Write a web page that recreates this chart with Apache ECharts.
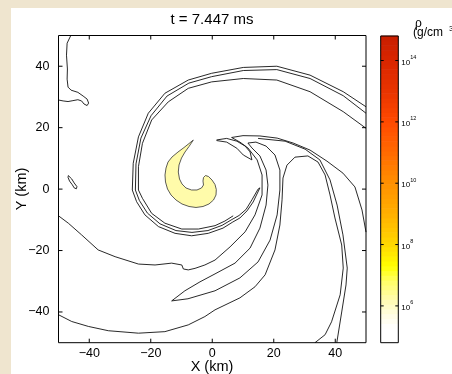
<!DOCTYPE html>
<html>
<head>
<meta charset="utf-8">
<script src="https://cdn.jsdelivr.net/npm/echarts@6/dist/echarts.min.js"></script>
<style>
html,body{margin:0;padding:0;width:452px;height:374px;overflow:hidden;background:#efe5cf;}
#panel{position:absolute;left:11px;top:8px;right:0;bottom:0;background:#ffffff;}
#chart{position:absolute;left:0;top:0;width:452px;height:374px;}
</style>
</head>
<body>
<div id="panel"></div>
<div id="chart"></div>
<script>
// ---------- data (km) ----------
const titleText = 't = 7.447 ms';
const xTicks = [-40, -20, 0, 20, 40];
const yTicks = [-40, -20, 0, 20, 40];
const cbTicks = [6, 8, 10, 12, 14];           // log10(rho)
const cbRange = [4.8, 14.8];
const cbAnchorLevels = [4.8, 5.3, 5.7, 6.2, 6.8, 7.3, 8.0, 9.0, 10.0, 11.0, 12.0, 13.0, 14.0, 14.8];
const cbAnchorColors = ['#ffffff','#ffffff','#fffde4','#fffbb0','#ffff66','#ffff00','#ffd800','#ffb000','#ff9000','#ff6a00','#ff4a00','#e83400','#d92600','#c81e00'];

const contourTopLeft = [[-46.0,50],[-47.2,47.5],[-47.4,43.6],[-47.1,39.1],[-47.2,35.8],[-46.9,33.2],[-45.9,32.2],[-43.7,31.5],[-42.0,30.3],[-40.7,29.3],[-40.2,28.0],[-40.7,27.2],[-41.7,27.7],[-42.5,28.7],[-43.7,29.1],[-45.3,28.8],[-46.9,28.5],[-48.5,28.7],[-50,29.0]];
const contourBlob = [[-46.8,4.4],[-46.2,4.5],[-45.7,3.3],[-44.9,2.0],[-44.0,0.8],[-44.2,0.1],[-44.9,0.4],[-45.5,1.4],[-46.4,2.6],[-46.9,3.8],[-46.8,4.4]];
const ringOuter1 = [[50,26.8],[42.6,31.7],[31.8,37.1],[21.0,40.0],[10.1,39.6],[-0.2,37.7],[-7.8,35.5],[-15.4,31.2],[-20.8,24.7],[-24.0,17.0],[-25.7,8.4],[-26.0,-0.3],[-24.6,-4.1],[-21.9,-8.4],[-17.5,-12.2],[-12.1,-14.4],[-6.7,-15.2],[-1.3,-14.4],[3.5,-12.7],[6.7,-10.7],[9.0,-9.4],[11.3,-7.1],[13.3,-4.2],[15.5,0.4]];
const ringOuter2 = [[50,24.7],[42.6,30.4],[31.8,36.0],[21.0,38.9],[10.1,38.6],[-0.2,36.6],[-7.6,34.5],[-14.7,30.3],[-19.9,23.9],[-23.2,16.6],[-24.8,8.2],[-25.0,-0.3],[-23.7,-3.7],[-21.1,-7.8],[-17.0,-11.3],[-11.8,-13.5],[-6.6,-14.1],[-1.4,-13.5],[3.2,-11.8],[6.4,-9.9],[8.7,-8.6],[11.0,-6.6],[12.9,-3.5],[14.9,0.0],[15.5,0.4]];
const ringInner = [[50,19.8],[42.6,25.2],[31.8,31.7],[21.0,35.5],[10.1,36.0],[-0.2,34.9],[-7.8,32.8],[-14.3,28.4],[-19.7,22.5],[-22.7,14.9],[-24.0,7.3],[-24.0,-0.3],[-22.7,-3.0],[-19.7,-7.9],[-15.4,-11.1],[-9.9,-13.0],[-4.5,-13.0],[0.9,-11.9],[4.1,-10.4],[6.8,-8.7]];
const armMiddle = [[-50,-8.7],[-46.8,-11.1],[-42.5,-14.9],[-37.1,-19.8],[-31.6,-22.0],[-24.0,-24.4],[-18.6,-24.7],[-13.2,-24.1],[-9.9,-24.7],[-9.4,-26.0],[-7.8,-26.3],[-5.6,-25.8],[-2.4,-24.7],[0.9,-23.1],[5.8,-18.8],[10.7,-13.9],[13.9,-8.4],[16.2,-1.9],[16.2,4.6],[14.6,9.5],[11.6,13.4],[9.0,15.3],[6.3,16.8],[10.0,17.4],[15.5,17.3],[21.1,16.6],[26.3,15.0],[31.8,12.7],[37.3,9.1],[42.5,5.2],[46.4,0.7],[48.7,-6.8],[50,-14.0]];
const armThin = [[-13.2,-36.4],[-7.9,-35.7],[0.9,-33.1],[9.0,-28.9],[14.9,-23.7],[18.8,-16.6],[21.1,-8.4],[22.0,-0.3],[22.0,6.2],[20.4,11.1],[17.5,14.0],[14.2,15.3],[11.6,15.0],[12.9,13.4],[15.5,10.8],[17.5,6.2],[18.1,1.3],[17.5,-5.2],[15.5,-12.7],[12.3,-19.2],[7.4,-24.1],[0.9,-27.6],[-4.0,-30.2],[-8.9,-33.1],[-13.2,-36.4]];
const armOuter = [[-50,-40.9],[-45.7,-43.1],[-40.3,-44.7],[-33.8,-46.1],[-24.0,-46.9],[-15.4,-46.4],[-7.8,-44.2],[-2.4,-41.5],[0.9,-39.3],[9.0,-35.4],[13.9,-31.8],[17.2,-27.9],[20.4,-19.8],[22.0,-11.7],[22.7,-3.5],[23.0,3.6],[24.3,7.8],[26.9,10.4],[31.1,10.8],[34.4,8.8],[36.7,4.6],[38.3,-1.9],[39.9,-9.4],[42.1,-18.2],[42.6,-25.7],[41.6,-34.4],[38.8,-43.2],[36.7,-47.4],[33.4,-50]];
const armRight = [[14.9,16.5],[23.7,15.6],[30.2,13.0],[35.0,9.5],[38.3,3.0],[40.6,-5.2],[42.5,-14.9],[43.9,-25.7],[43.5,-31.2],[42.1,-40.0],[40.5,-50]];
const armHook = [[1.4,16.0],[4.7,16.5],[8.0,15.6],[10.7,14.0],[12.3,12.1],[12.9,9.5],[12.3,9.2],[10.1,11.1],[8.0,13.3],[4.7,15.3],[1.4,15.8]];
const crescent = [[-6.16,15.97],[-7.56,14.83],[-9.19,13.53],[-11.14,12.07],[-13.09,10.44],[-14.39,8.81],[-15.04,6.86],[-15.37,4.59],[-15.20,2.31],[-14.55,0.03],[-13.41,-1.92],[-11.79,-3.55],[-9.84,-4.85],[-7.56,-5.66],[-5.28,-5.98],[-3.01,-5.66],[-1.06,-4.85],[0.41,-3.55],[1.22,-1.92],[1.32,-0.13],[0.89,1.50],[-0.08,2.96],[-1.22,4.10],[-2.20,4.42],[-2.85,3.77],[-3.01,2.63],[-2.85,1.33],[-3.50,0.36],[-4.96,-0.29],[-6.75,-0.29],[-8.54,0.36],[-9.84,1.67],[-10.65,3.28],[-11.04,5.56],[-10.81,7.84],[-10.00,10.11],[-8.86,12.07],[-7.56,13.85],[-6.59,15.32]];
const crescentLevel = 6.25; // log10(rho) of the filled region

const contourLines = [contourTopLeft, contourBlob, ringOuter1, ringOuter2, ringInner, armMiddle, armThin, armOuter, armRight, armHook];

// ---------- helpers ----------
function hexToRgb(h){return [parseInt(h.slice(1,3),16),parseInt(h.slice(3,5),16),parseInt(h.slice(5,7),16)];}
function cmap(v){
  const L=cbAnchorLevels, C=cbAnchorColors;
  if(v<=L[0]) return C[0];
  for(let i=1;i<L.length;i++){
    if(v<=L[i]){
      const t=(v-L[i-1])/(L[i]-L[i-1]);
      const a=hexToRgb(C[i-1]), b=hexToRgb(C[i]);
      return 'rgb('+a.map((x,k)=>Math.round(x+(b[k]-x)*t)).join(',')+')';
    }
  }
  return C[C.length-1];
}
const nBands = 64;
const cbBands = [];
for(let i=0;i<nBands;i++){
  const lo=cbRange[0]+(cbRange[1]-cbRange[0])*i/nBands;
  const hi=cbRange[0]+(cbRange[1]-cbRange[0])*(i+1)/nBands;
  cbBands.push([lo,hi]);
}

const FONT = 'Liberation Sans, Arial, Helvetica, sans-serif';
const chart = echarts.init(document.getElementById('chart'), null, {renderer:'canvas'});

const lineSeries = contourLines.map(d => ({
  type:'line', xAxisIndex:0, yAxisIndex:0, data:d, showSymbol:false, symbol:'none',
  lineStyle:{color:'#111', width:0.9}, silent:true, animation:false, z:5, clip:true
}));

// frame + inward ticks on all four sides, positioned through the axis scales
function frameSeries(xi, yi, xr, yr, xt, yt, len){
  return {
    type:'custom', xAxisIndex:xi, yAxisIndex:yi, data:[[xr[0], yr[0]]], silent:true, z:20, clip:false,
    renderItem:function(params, api){
      const p0=api.coord([xr[0], yr[0]]), p1=api.coord([xr[1], yr[1]]);
      const st={stroke:'#000', lineWidth:1};
      const children=[{type:'rect', shape:{x:p0[0], y:p1[1], width:p1[0]-p0[0], height:p0[1]-p1[1]}, style:{fill:'none', stroke:'#000', lineWidth:1}}];
      xt.forEach(t=>{
        const x=api.coord([t, yr[0]])[0];
        children.push({type:'line', shape:{x1:x, y1:p0[1], x2:x, y2:p0[1]-len}, style:st});
        children.push({type:'line', shape:{x1:x, y1:p1[1], x2:x, y2:p1[1]+len}, style:st});
      });
      yt.forEach(t=>{
        const y=api.coord([xr[0], t])[1];
        children.push({type:'line', shape:{x1:p0[0], y1:y, x2:p0[0]+len, y2:y}, style:st});
        children.push({type:'line', shape:{x1:p1[0], y1:y, x2:p1[0]-len, y2:y}, style:st});
      });
      return {type:'group', children:children};
    }
  };
}

const noLine = {show:false, onZero:false};
const axCommon = {type:'value', min:-50, max:50, splitLine:{show:false}, axisTick:{show:false}};

const option = {
  animation:false,
  grid:[
    {left:58.5, top:35.5, width:307.5, height:307.2, show:false},
    {left:380.7, top:36, width:17.6, height:306.7, show:false}
  ],
  xAxis:[
    Object.assign({}, axCommon, {gridIndex:0, position:'bottom', axisLine:noLine,
      axisLabel:{show:true, customValues:xTicks, margin:4, color:'#000', fontSize:12.5, fontFamily:FONT,
        formatter:v=>String(v).replace('-','\u2212')}}),
    {type:'value', gridIndex:1, min:0, max:1, axisLine:noLine, axisTick:{show:false}, axisLabel:{show:false}, splitLine:{show:false}}
  ],
  yAxis:[
    Object.assign({}, axCommon, {gridIndex:0, position:'left', axisLine:noLine,
      axisLabel:{show:true, customValues:yTicks, margin:9, color:'#000', fontSize:12.5, fontFamily:FONT,
        formatter:v=>String(v).replace('-','\u2212')}}),
    {type:'value', gridIndex:1, min:cbRange[0], max:cbRange[1], position:'right', axisLine:noLine,
      axisTick:{show:false},
      axisLabel:{show:true, customValues:cbTicks, margin:3, color:'#000', fontFamily:FONT,
        formatter:v=>'{b|10}{s|'+v+'}',
        rich:{b:{fontSize:8, fontFamily:FONT, color:'#000', verticalAlign:'bottom'}, s:{fontSize:5.5, fontFamily:FONT, color:'#000', verticalAlign:'top', padding:[0,0,6,0]}}},
      splitLine:{show:false}}
  ],
  graphic:[
    {type:'text', x:212, y:20, style:{text:titleText, font:'15px '+FONT, fill:'#000', textAlign:'center', textVerticalAlign:'middle'}},
    {type:'text', x:212, y:367, style:{text:'X (km)', font:'14.5px '+FONT, fill:'#000', textAlign:'center', textVerticalAlign:'middle'}},
    {type:'text', x:21.5, y:189, rotation:Math.PI/2, style:{text:'Y (km)', font:'14.5px '+FONT, fill:'#000', textAlign:'center', textVerticalAlign:'middle'}},
    {type:'text', x:415, y:23.5, style:{text:'\u03c1', font:'12px '+FONT, fill:'#000', textAlign:'left', textVerticalAlign:'middle'}},
    {type:'text', x:413, y:33, style:{text:'(g/cm', font:'12px '+FONT, fill:'#000', textAlign:'left', textVerticalAlign:'middle'}},
    {type:'text', x:449, y:29, style:{text:'3', font:'8px '+FONT, fill:'#000', textAlign:'left', textVerticalAlign:'middle'}}
  ],
  series:[
    {
      type:'custom', xAxisIndex:1, yAxisIndex:1, data:cbBands, silent:true, z:1,
      renderItem:function(params, api){
        const lo=api.value(0), hi=api.value(1);
        const p0=api.coord([0,lo]), p1=api.coord([1,hi]);
        return {type:'rect', shape:{x:p0[0], y:p1[1]-0.3, width:p1[0]-p0[0], height:p0[1]-p1[1]+0.6},
          style:{fill:cmap((lo+hi)/2)}};
      }
    },
    {
      type:'custom', xAxisIndex:0, yAxisIndex:0, data:[crescent[0]], silent:true, z:3,
      renderItem:function(params, api){
        const pts=crescent.map(p=>api.coord(p));
        return {type:'polygon', shape:{points:pts}, style:{fill:cmap(crescentLevel), stroke:'#333', lineWidth:0.8}};
      }
    },
    frameSeries(0, 0, [-50, 50], [-50, 50], xTicks, yTicks, 4),
    frameSeries(1, 1, [0, 1], cbRange, [], cbTicks, 3)
  ].concat(lineSeries)
};
chart.setOption(option);
</script>
</body>
</html>
